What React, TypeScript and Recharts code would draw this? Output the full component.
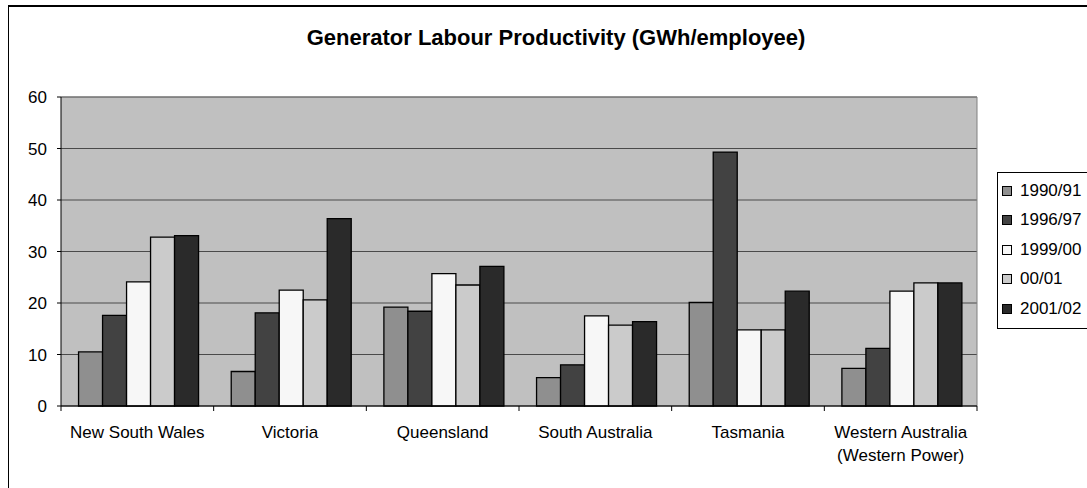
import React from 'react';
import { BarChart, Bar, XAxis, YAxis, CartesianGrid } from 'recharts';

// regions on the x axis ("\n" splits a label in two lines)
const regions = [
    'New South Wales',
    'Victoria',
    'Queensland',
    'South Australia',
    'Tasmania',
    'Western Australia\n(Western Power)',
];

const seriesNames = ['1990/91', '1996/97', '1999/00', '00/01', '2001/02'];
const seriesColors = ['#8f8f8f', '#424242', '#f7f7f7', '#cbcbcb', '#2a2a2a'];

// GWh per employee
const v1990 = [10.5, 6.7, 19.2, 5.5, 20.1, 7.3];
const v1996 = [17.6, 18.1, 18.4, 8.0, 49.3, 11.2];
const v1999 = [24.1, 22.5, 25.7, 17.5, 14.8, 22.3];
const v0001 = [32.8, 20.6, 23.5, 15.7, 14.8, 23.9];
const v2001 = [33.1, 36.4, 27.1, 16.4, 22.3, 23.9];

const yTicks = [0, 10, 20, 30, 40, 50, 60];

const seriesValues = [v1990, v1996, v1999, v0001, v2001];

const data = regions.map((region, i) => {
    const row: any = { region };
    seriesNames.forEach((name, s) => {
        row[name] = seriesValues[s][i];
    });
    return row;
});

const font = '"Liberation Sans", Arial, sans-serif';

function RegionTick(props: any) {
    const { x, y, payload, index } = props;
    const half = payload.offset ?? 0;
    const lines = String(payload.value).split('\n');
    return (
        <g>
            <line x1={x - half} x2={x - half} y1={y - 5} y2={y} stroke="#000" />
            {index === regions.length - 1 && (
                <line x1={x + half} x2={x + half} y1={y - 5} y2={y} stroke="#000" />
            )}
            <text x={x} y={y + 27} textAnchor="middle" fontSize={17} fill="#000" fontFamily={font}>
                {lines.map((l, k) => (
                    <tspan key={k} x={x} dy={k === 0 ? 0 : 23}>
                        {l}
                    </tspan>
                ))}
            </text>
        </g>
    );
}

export default function App() {
    return (
        <div
            style={{
                position: 'absolute',
                left: 0,
                top: 0,
                width: 1087,
                height: 488,
                overflow: 'hidden',
                background: '#fff',
                fontFamily: font,
            }}
        >
            {/* chart frame, cut off at the right and bottom */}
            <div
                style={{
                    position: 'absolute',
                    left: 8,
                    top: 5,
                    width: 1200,
                    height: 600,
                    borderTop: '2px solid #000',
                    borderLeft: '1px solid #000',
                }}
            />
            <div
                style={{
                    position: 'absolute',
                    left: 0,
                    width: 1112,
                    top: 24,
                    textAlign: 'center',
                    fontWeight: 'bold',
                    fontSize: 22,
                    lineHeight: '27px',
                    whiteSpace: 'nowrap',
                }}
            >
                Generator Labour Productivity (GWh/employee)
            </div>

            <div style={{ position: 'absolute', left: 0, top: 0 }}>
                <BarChart
                    width={1087}
                    height={488}
                    data={data}
                    margin={{ top: 97, right: 110, bottom: 52, left: 11 }}
                    barGap={0}
                    barCategoryGap="11.5%"
                >
                    <CartesianGrid vertical={false} fill="#c0c0c0" stroke="#4a4a4a" />
                    <CartesianGrid
                        fill="none"
                        stroke="#808080"
                        horizontalCoordinatesGenerator={({ offset }: any) => [offset.top]}
                        verticalCoordinatesGenerator={({ offset }: any) => [offset.left + offset.width]}
                    />
                    <XAxis
                        dataKey="region"
                        interval={0}
                        tickLine={false}
                        tickSize={5}
                        tickMargin={0}
                        axisLine={{ stroke: '#000' }}
                        tick={<RegionTick />}
                    />
                    <YAxis
                        width={50}
                        domain={[0, 60]}
                        ticks={yTicks}
                        interval={0}
                        tickSize={4}
                        tickMargin={10}
                        axisLine={{ stroke: '#000' }}
                        tickLine={{ stroke: '#000' }}
                        tick={{ fill: '#000', fontSize: 17, fontFamily: font }}
                    />
                    {seriesNames.map((name, s) => (
                        <Bar
                            key={name}
                            dataKey={name}
                            fill={seriesColors[s]}
                            stroke="#000"
                            strokeWidth={1.3}
                            isAnimationActive={false}
                        />
                    ))}
                </BarChart>
            </div>

            {/* legend */}
            <div
                style={{
                    position: 'absolute',
                    left: 997,
                    top: 172,
                    width: 120,
                    height: 157,
                    border: '1px solid #000',
                    background: '#fff',
                    paddingTop: 3,
                    boxSizing: 'border-box',
                }}
            >
                {seriesNames.map((name, s) => (
                    <div
                        key={name}
                        style={{ height: 29.5, display: 'flex', alignItems: 'center', fontSize: 17 }}
                    >
                        <span
                            style={{
                                display: 'inline-block',
                                width: 8,
                                height: 8,
                                marginLeft: 4,
                                marginRight: 8,
                                border: '1px solid #000',
                                background: seriesColors[s],
                            }}
                        />
                        {name}
                    </div>
                ))}
            </div>
        </div>
    );
}
